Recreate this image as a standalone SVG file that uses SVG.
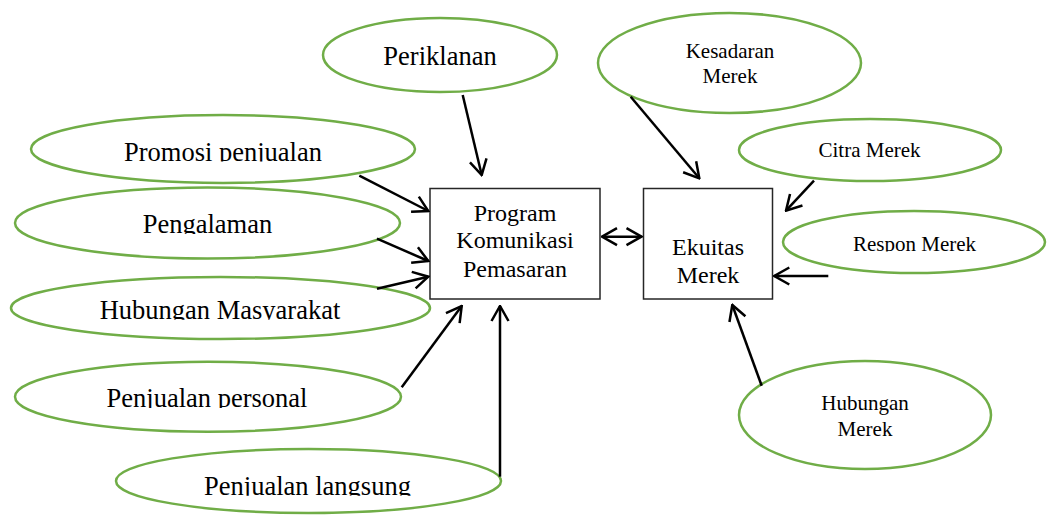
<svg xmlns="http://www.w3.org/2000/svg" width="1048" height="515" viewBox="0 0 1048 515">
<style>
.el{fill:#fff;stroke:#70AD47;stroke-width:2.5}
.bx{fill:#fff;stroke:#262626;stroke-width:1.5}
.t{font-family:"Liberation Serif","Times New Roman",serif;fill:#000;text-anchor:middle}
.big{font-size:26.5px}
.mid{font-size:24px}
.sm{font-size:21px}
.c{stroke:#000;stroke-width:2.5;fill:none;marker-end:url(#ah)}
</style>
<defs>
<marker id="ah" viewBox="0 0 18 20" refX="16.5" refY="10" markerWidth="18" markerHeight="20" markerUnits="userSpaceOnUse" orient="auto-start-reverse">
<path d="M1.5,1.5 L16.5,10 L1.5,18.5" fill="none" stroke="#000" stroke-width="2.5"/>
</marker>
<clipPath id="c1"><rect x="0" y="0" width="1048" height="161.5"/></clipPath>
<clipPath id="c2"><rect x="0" y="0" width="1048" height="234"/></clipPath>
<clipPath id="c3"><rect x="0" y="0" width="1048" height="319.8"/></clipPath>
<clipPath id="c4"><rect x="0" y="0" width="1048" height="408"/></clipPath>
<clipPath id="c5"><rect x="0" y="0" width="1048" height="495.8"/></clipPath>
<clipPath id="c6"><rect x="0" y="0" width="1048" height="251.5"/></clipPath>
</defs>
<rect width="1048" height="515" fill="#fff"/>

<g id="periklanan">
<ellipse class="el" cx="440" cy="55" rx="117" ry="37"/>
<text class="t big" x="440" y="65">Periklanan</text>
</g>
<g id="promosi-penjualan">
<ellipse class="el" cx="223" cy="149" rx="192" ry="34"/>
<text class="t big" x="223" y="160.5" clip-path="url(#c1)">Promosi penjualan</text>
</g>
<g id="pengalaman">
<ellipse class="el" cx="207.5" cy="223" rx="192.5" ry="35.5"/>
<text class="t big" x="207.5" y="233.3" clip-path="url(#c2)">Pengalaman</text>
</g>
<g id="hubungan-masyarakat">
<ellipse class="el" cx="220.5" cy="308" rx="209.5" ry="31"/>
<text class="t big" x="220" y="319" clip-path="url(#c3)">Hubungan Masyarakat</text>
</g>
<g id="penjualan-personal">
<ellipse class="el" cx="208" cy="396.7" rx="193" ry="35"/>
<text class="t big" x="207" y="407.3" clip-path="url(#c4)">Penjualan personal</text>
</g>
<g id="penjualan-langsung">
<ellipse class="el" cx="308.5" cy="481" rx="192.5" ry="32"/>
<text class="t big" x="307.5" y="495" clip-path="url(#c5)">Penjualan langsung</text>
</g>
<g id="program-komunikasi-pemasaran">
<rect class="bx" x="430" y="188.5" width="170" height="110.5"/>
<text class="t mid" x="515" y="220.7">Program</text>
<text class="t mid" x="515" y="248.3">Komunikasi</text>
<text class="t mid" x="515" y="276.7">Pemasaran</text>
</g>
<g id="ekuitas-merek">
<rect class="bx" x="643.5" y="188.5" width="129" height="110.5"/>
<text class="t mid" x="708" y="255">Ekuitas</text>
<text class="t mid" x="708" y="283.3">Merek</text>
</g>
<g id="kesadaran-merek">
<ellipse class="el" cx="729.5" cy="63" rx="131.5" ry="50"/>
<text class="t sm" x="730" y="58.3">Kesadaran</text>
<text class="t sm" x="730" y="82.7">Merek</text>
</g>
<g id="citra-merek">
<ellipse class="el" cx="870" cy="150" rx="131" ry="31"/>
<text class="t sm" x="869.5" y="156.7">Citra Merek</text>
</g>
<g id="respon-merek">
<ellipse class="el" cx="914" cy="242" rx="131" ry="31"/>
<text class="t sm" x="914.5" y="250.7" clip-path="url(#c6)">Respon Merek</text>
</g>
<g id="hubungan-merek">
<ellipse class="el" cx="865" cy="415" rx="126" ry="54"/>
<text class="t sm" x="865" y="410">Hubungan</text>
<text class="t sm" x="865" y="435.7">Merek</text>
</g>

<g id="connectors">
<line class="c" x1="462.7" y1="95" x2="481.7" y2="175"/>
<line class="c" x1="359.3" y1="175.7" x2="428.3" y2="211"/>
<line class="c" x1="377" y1="238.7" x2="428.3" y2="261"/>
<line class="c" x1="377" y1="288.7" x2="428.3" y2="276.7"/>
<line class="c" x1="401.7" y1="387.3" x2="461.7" y2="306"/>
<line class="c" x1="500" y1="476.7" x2="500" y2="306"/>
<line class="c" x1="602" y1="236.7" x2="641.5" y2="236.7" style="marker-start:url(#ah)"/>
<line class="c" x1="630.7" y1="96.7" x2="699.3" y2="178.3"/>
<line class="c" x1="814" y1="180.7" x2="786" y2="210.7"/>
<line class="c" x1="828.3" y1="276" x2="774.3" y2="276"/>
<line class="c" x1="761.7" y1="385.7" x2="732.3" y2="305"/>
</g>
</svg>
